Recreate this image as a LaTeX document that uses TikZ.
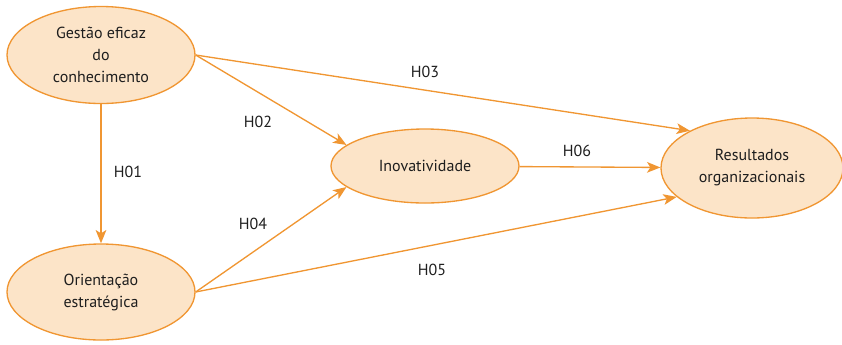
\documentclass[tikz,border=0pt]{standalone}
\usepackage{fontspec}
\setmainfont{PT Sans}
\usetikzlibrary{shapes.geometric,arrows.meta}
\definecolor{linhaLaranja}{RGB}{240,150,50}
\definecolor{fundoLaranja}{RGB}{252,228,200}
\definecolor{textoCinza}{RGB}{30,30,30}
\tikzset{
	construto/.style={ellipse,draw=linhaLaranja,fill=fundoLaranja,line width=1pt,inner sep=0pt,align=center,text=textoCinza,font=\fontsize{12}{16.5}\selectfont},
	hipotese/.style={draw=linhaLaranja,line width=1pt,-{Stealth[length=10pt,width=8pt,inset=2.5pt]}},
	rotulo/.style={inner sep=0.75pt,text=textoCinza,font=\fontsize{12}{14}\selectfont}
}
\begin{document}
\begin{tikzpicture}[x=0.75pt,y=0.75pt,yscale=-1,xscale=1]
	\useasboundingbox (0,0) rectangle (842,344);

	%Shape: Ellipse [id:gestao]
	\node [construto,minimum width=141pt,minimum height=72.75pt] (gestao) at (101,55) {Gestão eficaz\\do\\conhecimento};
	%Shape: Ellipse [id:orientacao]
	\node [construto,minimum width=141pt,minimum height=72pt] (orientacao) at (101,292) {Orientação\\estratégica};
	%Shape: Ellipse [id:inovatividade]
	\node [construto,minimum width=141pt,minimum height=55.5pt] (inovatividade) at (425,166) {Inovatividade};
	%Shape: Ellipse [id:resultados]
	\node [construto,minimum width=136.5pt,minimum height=75pt] (resultados) at (752,168) {Resultados\\organizacionais};

	%Straight Lines [id:h01]
	\draw [hipotese] (gestao) -- (orientacao);
	%Straight Lines [id:h02]
	\draw [hipotese] (gestao.east) -- (inovatividade.165);
	%Straight Lines [id:h03]
	\draw [hipotese] (gestao.east) -- (resultados.149);
	%Straight Lines [id:h04]
	\draw [hipotese] (orientacao.east) -- (inovatividade.195);
	%Straight Lines [id:h05]
	\draw [hipotese] (orientacao.east) -- (resultados.201);
	%Straight Lines [id:h06]
	\draw [hipotese] (inovatividade) -- (resultados);

	% Text Node
	\node [rotulo] (r01) at (128,172) {H01};
	% Text Node
	\node [rotulo] (r02) at (258,122) {H02};
	% Text Node
	\node [rotulo] (r03) at (425,72) {H03};
	% Text Node
	\node [rotulo] (r04) at (253,224) {H04};
	% Text Node
	\node [rotulo] (r05) at (432,270) {H05};
	% Text Node
	\node [rotulo] (r06) at (577,151) {H06};

\end{tikzpicture}
\end{document}
